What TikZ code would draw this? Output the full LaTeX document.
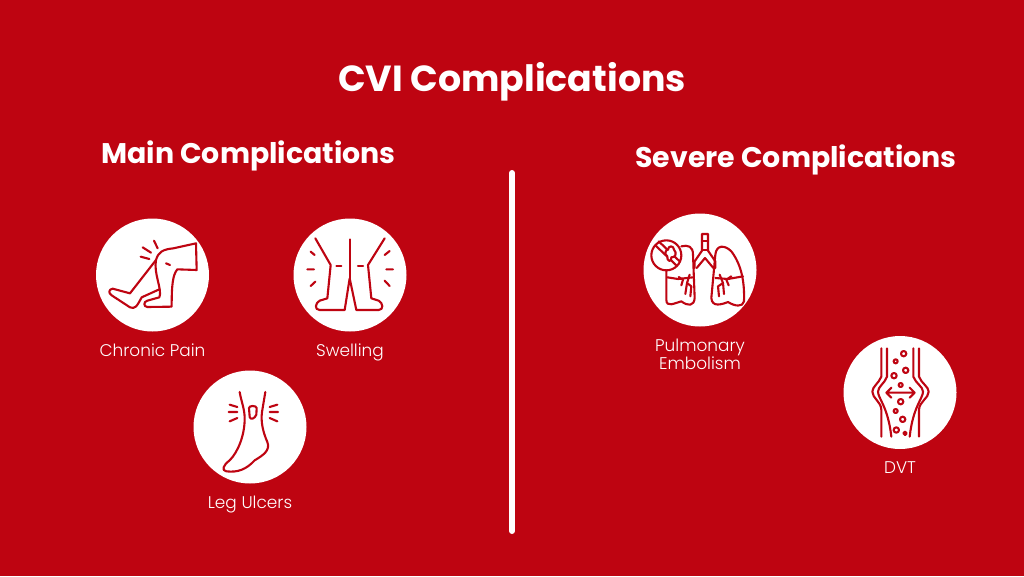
\documentclass[tikz,border=0pt]{standalone}
\usepackage{fontspec}
\setmainfont{Poppins}
\newfontfamily\lightfont{Poppins Light}
\usetikzlibrary{arrows.meta,positioning}
\definecolor{cvired}{HTML}{BE0411}
\tikzset{disc/.style={circle,fill=white,minimum size=113pt,inner sep=0pt}}
\tikzset{caption/.style={text=white,font=\lightfont\fontsize{16.9}{17}\selectfont,align=center,inner sep=0pt,anchor=base}}
\tikzset{heading/.style={text=white,font=\bfseries\fontsize{28.4}{30}\selectfont,inner sep=0pt,anchor=base}}
\tikzset{icon/.style={draw=cvired,line width=2.1pt,line cap=round,line join=round,scale=1/3}}
\begin{document}
\begin{tikzpicture}[x=1pt,y=-1pt]
\fill[cvired] (0,0) rectangle (1024,576);
\useasboundingbox (0,0) rectangle (1024,576);
\node[text=white,font=\bfseries\fontsize{36.3}{38}\selectfont,inner sep=0pt,anchor=base] (T) at (512,91){CVI Complications};
\node[heading] (H1) at (248.5,163){Main Complications};
\node[heading] (H2) at (796,167){Severe Complications};
\coordinate (L0) at (512,173);
\coordinate (L1) at (512,531);
\draw[white,line width=6pt,line cap=round] (L0) -- (L1);
\node[disc] (C1) at (152.5,275){};
\node[disc] (C2) at (350,275){};
\node[disc] (C3) at (250,427){};
\node[disc] (C4) at (700,270){};
\node[disc] (C5) at (900,392.5){};
\node[caption] (P1) at (152.5,356){Chronic Pain};
\node[caption] (P2) at (350,356){Swelling};
\node[caption] (P3) at (250,508){Leg Ulcers};
\node[caption,anchor=center] (P4) at (700,354.5){Pulmonary\\Embolism};
\node[caption] (P5) at (900,473){DVT};
% pain
\begin{scope}[shift={(90,210)},icon]
\draw (318,100) -- (320,180) -- (262,178) .. controls (248,195) and (245,225) .. (245,290) -- (172,291) .. controls (160,290) and (160,275) .. (172,272) -- (208,262) .. controls (218,240) and (190,190) .. (198,150) .. controls (205,125) and (220,118) .. (250,115) -- cycle;
\draw (198,150) -- (120,250) -- (68,236) .. controls (55,238) and (55,250) .. (65,256) -- (120,292) .. controls (135,298) and (140,290) .. (155,262) -- (208,238);
\draw (192,92) -- (203,115) (158,112) -- (183,128) (152,140) -- (178,147) (228,160) -- (240,165);
\end{scope}
% swelling
\begin{scope}[shift={(288,210)},icon]
\draw (82,85) -- (128,165) -- (118,265) -- (95,272) .. controls (82,278) and (78,300) .. (95,300) -- (170,300) -- (185,205) -- (205,300) -- (272,300) .. controls (288,300) and (285,278) .. (272,272) -- (250,265) -- (240,165) -- (290,85);
\draw (185,88) -- (185,205);
\draw (145,168) -- (160,168) (210,168) -- (225,168);
\draw (68,125) -- (80,135) (58,178) -- (78,178) (68,228) -- (82,215);
\draw (305,123) -- (290,135) (295,178) -- (315,178) (305,228) -- (290,212);
\end{scope}
% ulcer
\begin{scope}[shift={(188,392)},icon]
\draw (155,0) .. controls (160,30) and (170,50) .. (170,80) .. controls (170,130) and (150,180) .. (125,205) .. controls (105,220) and (100,235) .. (115,238) .. controls (150,242) and (175,232) .. (200,205) .. controls (225,190) and (248,175) .. (238,150) .. controls (225,120) and (218,90) .. (222,60) -- (232,0);
\draw (183,48) .. controls (183,40) and (205,40) .. (206,48) -- (205,68) .. controls (200,80) and (188,85) .. (185,75) -- cycle;
\draw (125,38) -- (148,45) (122,60) -- (148,60) (125,88) -- (148,78);
\draw (268,38) -- (245,45) (270,60) -- (245,60) (268,88) -- (245,78);
\end{scope}
% lungs
\begin{scope}[shift={(638,208)},icon]
\draw (192,78) -- (210,78) -- (210,128) -- (232,160) -- (232,180) (192,78) -- (192,128) -- (170,160) -- (170,180);
\draw (192,100) -- (210,100) (192,125) -- (210,125);
\draw (201,150) -- (176,180) (201,150) -- (226,180);
\draw (130,115) .. controls (150,110) and (165,115) .. (165,140) -- (170,270) .. controls (168,295) and (150,295) .. (130,280) .. controls (110,285) and (85,300) .. (85,275) -- (85,188);
\draw (232,140) .. controls (235,110) and (260,110) .. (280,130) .. controls (310,170) and (320,220) .. (318,280) .. controls (315,298) and (290,295) .. (270,282) .. controls (250,290) and (222,298) .. (220,270) -- cycle;
\draw (88,208) -- (120,213) -- (165,208) (232,210) -- (270,213) -- (315,205);
\draw (122,207) -- (135,215) -- (130,232) (155,200) -- (147,225) -- (160,235) -- (157,265) (147,225) -- (142,258);
\draw (280,205) -- (265,215) -- (272,232) (245,200) -- (255,225) -- (240,235) -- (243,265) (255,225) -- (258,258);
\draw (85,142) circle (45);
\draw (52,112) -- (115,172) (62,100) -- (125,160);
\draw[fill=white] (90,125) .. controls (90,112) and (108,112) .. (108,125) .. controls (118,135) and (112,150) .. (100,148) .. controls (102,165) and (85,160) .. (88,145) .. controls (78,140) and (82,125) .. (90,125) -- cycle;
\end{scope}
% vein
\begin{scope}[shift={(838,330)},icon]
\draw (130,55) -- (130,140) .. controls (122,160) and (103,170) .. (103,185) .. controls (103,205) and (130,215) .. (130,240) -- (130,320);
\draw (147,55) -- (147,140) .. controls (140,160) and (120,170) .. (120,185) .. controls (120,205) and (150,230) .. (160,320);
\draw (243,55) -- (243,140) .. controls (250,160) and (272,170) .. (272,185) .. controls (272,205) and (243,215) .. (243,240) -- (243,320);
\draw (226,55) -- (226,140) .. controls (233,160) and (255,170) .. (255,185) .. controls (255,205) and (225,230) .. (215,320);
\draw (145,188) -- (230,188) (160,173) -- (145,188) -- (160,203) (215,173) -- (230,188) -- (215,203);
\foreach \cx/\cy/\cr in {197/71/8,173/94/6,203/121/8,168/137/8,188/165/6,188/215/8,173/243/6,194/268/8,175/300/8,201/310/5}
  \draw (\cx,\cy) circle (\cr);
\end{scope}
\end{tikzpicture}
\end{document}
